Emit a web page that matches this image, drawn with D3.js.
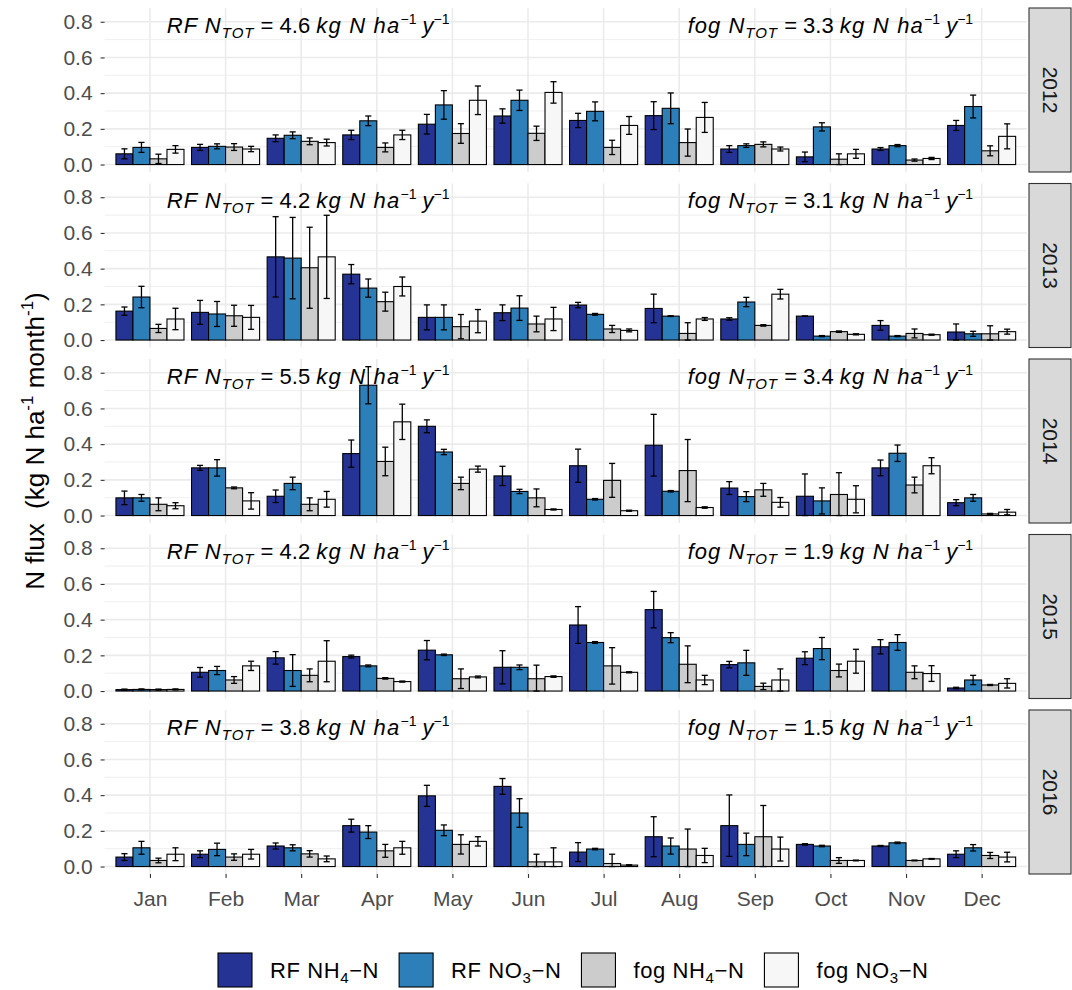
<!DOCTYPE html>
<html>
<head>
<meta charset="utf-8">
<script src="https://cdn.jsdelivr.net/npm/d3@7"></script>
<style>
  body { margin: 0; background: #fff; }
  text { font-family: "Liberation Sans", Arial, sans-serif; }
</style>
</head>
<body>
<div id="chart"></div>
<script>
// ---- data ----
const years = ["2012", "2013", "2014", "2015", "2016"];
const months = ["Jan", "Feb", "Mar", "Apr", "May", "Jun", "Jul", "Aug", "Sep", "Oct", "Nov", "Dec"];
const yTicks = [0, 0.2, 0.4, 0.6, 0.8];
const yMinor = [0.1, 0.3, 0.5, 0.7];
const rfTotals = ["4.6", "4.2", "5.5", "4.2", "3.8"];
const fogTotals = ["3.3", "3.1", "3.4", "1.9", "1.5"];

const seriesKeys = ["rfNH4", "rfNO3", "fogNH4", "fogNO3"];
const seriesColors = ["#253494", "#2c7fb8", "#cccccc", "#f7f7f7"];

// monthly means, one row per year
const rfNH4 = [
  [0.060, 0.096, 0.147, 0.166, 0.226, 0.272, 0.247, 0.274, 0.087, 0.043, 0.087, 0.219],
  [0.162, 0.155, 0.466, 0.369, 0.127, 0.153, 0.196, 0.177, 0.118, 0.134, 0.082, 0.045],
  [0.099, 0.267, 0.108, 0.347, 0.500, 0.222, 0.279, 0.394, 0.154, 0.108, 0.267, 0.072],
  [0.008, 0.105, 0.186, 0.193, 0.229, 0.133, 0.370, 0.456, 0.148, 0.184, 0.248, 0.017],
  [0.053, 0.069, 0.115, 0.229, 0.396, 0.449, 0.081, 0.167, 0.229, 0.124, 0.115, 0.069]
];
const rfNO3 = [
  [0.096, 0.102, 0.164, 0.245, 0.334, 0.360, 0.298, 0.315, 0.106, 0.211, 0.106, 0.325],
  [0.241, 0.146, 0.459, 0.291, 0.127, 0.179, 0.144, 0.134, 0.213, 0.022, 0.022, 0.035],
  [0.099, 0.267, 0.180, 0.730, 0.356, 0.135, 0.091, 0.136, 0.106, 0.082, 0.349, 0.099],
  [0.009, 0.115, 0.115, 0.141, 0.203, 0.133, 0.272, 0.299, 0.158, 0.238, 0.272, 0.062],
  [0.105, 0.096, 0.105, 0.193, 0.203, 0.300, 0.098, 0.115, 0.124, 0.115, 0.133, 0.105]
];
const fogNH4 = [
  [0.032, 0.098, 0.130, 0.096, 0.174, 0.175, 0.096, 0.123, 0.113, 0.030, 0.025, 0.077],
  [0.065, 0.136, 0.405, 0.215, 0.075, 0.090, 0.062, 0.037, 0.082, 0.047, 0.037, 0.035],
  [0.063, 0.155, 0.063, 0.303, 0.180, 0.099, 0.197, 0.252, 0.144, 0.118, 0.171, 0.009],
  [0.008, 0.062, 0.088, 0.071, 0.069, 0.069, 0.141, 0.150, 0.026, 0.115, 0.105, 0.034],
  [0.034, 0.053, 0.071, 0.088, 0.124, 0.026, 0.017, 0.098, 0.167, 0.034, 0.034, 0.062]
];
const fogNO3 = [
  [0.085, 0.087, 0.123, 0.166, 0.360, 0.404, 0.219, 0.264, 0.087, 0.060, 0.034, 0.158],
  [0.118, 0.127, 0.466, 0.300, 0.106, 0.118, 0.054, 0.118, 0.257, 0.032, 0.030, 0.047],
  [0.055, 0.082, 0.091, 0.525, 0.260, 0.034, 0.027, 0.045, 0.074, 0.091, 0.279, 0.019],
  [0.009, 0.141, 0.167, 0.053, 0.079, 0.081, 0.105, 0.062, 0.062, 0.167, 0.098, 0.043],
  [0.069, 0.069, 0.043, 0.105, 0.141, 0.026, 0.008, 0.062, 0.098, 0.034, 0.043, 0.053]
];

// error bar half-widths
const rfNH4Err = [
  [0.028, 0.017, 0.019, 0.026, 0.055, 0.040, 0.040, 0.078, 0.019, 0.027, 0.008, 0.028],
  [0.023, 0.067, 0.225, 0.054, 0.070, 0.044, 0.015, 0.080, 0.007, 0.000, 0.027, 0.045],
  [0.038, 0.014, 0.035, 0.076, 0.036, 0.054, 0.093, 0.173, 0.036, 0.125, 0.044, 0.017],
  [0.003, 0.027, 0.035, 0.008, 0.054, 0.093, 0.103, 0.102, 0.018, 0.036, 0.040, 0.004],
  [0.019, 0.019, 0.017, 0.036, 0.059, 0.044, 0.053, 0.112, 0.172, 0.004, 0.003, 0.019]
];
const rfNO3Err = [
  [0.028, 0.014, 0.019, 0.027, 0.080, 0.057, 0.053, 0.086, 0.010, 0.023, 0.006, 0.064],
  [0.060, 0.070, 0.228, 0.051, 0.070, 0.069, 0.005, 0.002, 0.026, 0.003, 0.003, 0.014],
  [0.019, 0.046, 0.035, 0.104, 0.015, 0.012, 0.004, 0.004, 0.028, 0.073, 0.046, 0.019],
  [0.003, 0.023, 0.089, 0.005, 0.004, 0.013, 0.005, 0.028, 0.070, 0.062, 0.044, 0.026],
  [0.036, 0.035, 0.017, 0.036, 0.030, 0.080, 0.004, 0.045, 0.063, 0.004, 0.004, 0.018]
];
const fogNH4Err = [
  [0.026, 0.019, 0.019, 0.025, 0.055, 0.040, 0.040, 0.076, 0.014, 0.030, 0.006, 0.028],
  [0.023, 0.059, 0.227, 0.053, 0.068, 0.044, 0.020, 0.060, 0.004, 0.004, 0.025, 0.045],
  [0.036, 0.005, 0.036, 0.080, 0.035, 0.050, 0.095, 0.174, 0.036, 0.122, 0.044, 0.003],
  [0.003, 0.019, 0.036, 0.004, 0.055, 0.076, 0.102, 0.103, 0.018, 0.036, 0.036, 0.003],
  [0.013, 0.018, 0.018, 0.036, 0.054, 0.043, 0.052, 0.112, 0.175, 0.016, 0.002, 0.017]
];
const fogNO3Err = [
  [0.021, 0.015, 0.019, 0.026, 0.080, 0.060, 0.050, 0.084, 0.011, 0.025, 0.006, 0.070],
  [0.060, 0.067, 0.233, 0.053, 0.065, 0.065, 0.008, 0.008, 0.027, 0.003, 0.003, 0.014],
  [0.017, 0.046, 0.044, 0.099, 0.017, 0.003, 0.003, 0.004, 0.027, 0.076, 0.045, 0.015],
  [0.003, 0.026, 0.115, 0.003, 0.005, 0.004, 0.003, 0.026, 0.062, 0.067, 0.044, 0.026],
  [0.036, 0.027, 0.016, 0.036, 0.026, 0.079, 0.002, 0.040, 0.067, 0.002, 0.002, 0.027]
];

const means = { rfNH4, rfNO3, fogNH4, fogNO3 };
const errs = { rfNH4: rfNH4Err, rfNO3: rfNO3Err, fogNH4: fogNH4Err, fogNO3: fogNO3Err };

// long table for drawing
const rows = [];
years.forEach((yr, i) => months.forEach((m, j) => seriesKeys.forEach(k => {
  rows.push({ year: yr, month: m, key: k, v: means[k][i][j], e: errs[k][i][j] });
})));

// ---- layout ----
const W = 1072, H = 990;
const left = 104.6, right = 1027;
const stripX = 1029, stripW = 42;
const axisCol = "#4d4d4d", gridCol = "#ebebeb";

const svg = d3.select("#chart").append("svg")
  .attr("width", W).attr("height", H);

const facet = d3.scaleBand().domain(years).range([8, 874]).paddingInner(0.0655);
const ph = facet.bandwidth();

const x = d3.scalePoint().domain(months).range([left, right]).padding(0.6);
const step = x.step();
const xInner = d3.scaleBand().domain(seriesKeys).range([-0.45 * step, 0.45 * step]);
const bw = xInner.bandwidth();
const color = d3.scaleOrdinal().domain(seriesKeys).range(seriesColors);

years.forEach((yr, i) => {
  const top = facet(yr);
  const y = d3.scaleLinear().domain([-0.0418, 0.877]).range([top + ph, top]);
  const g = svg.append("g");

  // grid
  g.selectAll(".minor").data(yMinor).join("line")
    .attr("x1", left).attr("x2", right)
    .attr("y1", d => y(d)).attr("y2", d => y(d))
    .attr("stroke", gridCol).attr("stroke-width", 0.8);
  g.selectAll(".major").data(yTicks).join("line")
    .attr("x1", left).attr("x2", right)
    .attr("y1", d => y(d)).attr("y2", d => y(d))
    .attr("stroke", gridCol).attr("stroke-width", 1.6);
  g.selectAll(".vgrid").data(months).join("line")
    .attr("x1", d => x(d)).attr("x2", d => x(d))
    .attr("y1", top).attr("y2", top + ph)
    .attr("stroke", gridCol).attr("stroke-width", 1.6);

  // y axis
  const ya = g.append("g")
    .attr("transform", `translate(${left},0)`)
    .call(d3.axisLeft(y).tickValues(yTicks).tickFormat(d3.format(".1f")).tickSize(4).tickPadding(8));
  ya.select(".domain").remove();
  ya.selectAll("line").attr("stroke", "#333").attr("stroke-width", 1.1);
  ya.selectAll("text").attr("fill", axisCol).style("font-size", "21px")
    .style("font-family", '"Liberation Sans", Arial, sans-serif');

  // bars
  const data = rows.filter(d => d.year === yr);
  g.selectAll(".bar").data(data).join("rect")
    .attr("x", d => x(d.month) + xInner(d.key))
    .attr("width", bw)
    .attr("y", d => y(d.v))
    .attr("height", d => y(0) - y(d.v))
    .attr("fill", d => color(d.key))
    .attr("stroke", "#000").attr("stroke-width", 1.1);

  // error bars
  const cap = bw * 0.18;
  const eb = g.selectAll(".err").data(data).join("g")
    .attr("transform", d => `translate(${x(d.month) + xInner(d.key) + bw / 2},0)`);
  eb.append("line")
    .attr("y1", d => y(d.v + d.e)).attr("y2", d => y(Math.max(0, d.v - d.e)))
    .attr("stroke", "#000").attr("stroke-width", 1.3);
  eb.append("line")
    .attr("x1", -cap).attr("x2", cap)
    .attr("y1", d => y(d.v + d.e)).attr("y2", d => y(d.v + d.e))
    .attr("stroke", "#000").attr("stroke-width", 1.3);
  eb.append("line")
    .attr("x1", -cap).attr("x2", cap)
    .attr("y1", d => y(Math.max(0, d.v - d.e))).attr("y2", d => y(Math.max(0, d.v - d.e)))
    .attr("stroke", "#000").attr("stroke-width", 1.3);

  // annotations (plotmath-like spacing)
  const annY = y(0.8) + 11;
  function annot(cx, prefix, total) {
    const t = g.append("text")
      .attr("x", cx).attr("y", annY)
      .attr("text-anchor", "middle")
      .style("font-size", "22px").attr("fill", "#000");
    t.append("tspan").style("font-style", "italic").style("letter-spacing", "1px").text(prefix + " N");
    t.append("tspan").style("font-style", "italic").style("font-size", "15px").style("letter-spacing", "1px")
      .attr("dy", 5).text("TOT");
    t.append("tspan").attr("dy", -5).text("\u00a0=\u00a0" + total + "\u00a0");
    t.append("tspan").style("font-style", "italic").style("letter-spacing", "1.2px").text("kg N ha");
    t.append("tspan").style("font-size", "14px").attr("dy", -9).text("\u22121");
    t.append("tspan").style("font-style", "italic").attr("dy", 9).text("\u00a0y");
    t.append("tspan").style("font-size", "14px").attr("dy", -9).text("\u22121");
  }
  annot(x("Mar") + 7, "RF", rfTotals[i]);
  annot(x("Oct"), "fog", fogTotals[i]);

  // strip
  g.append("rect")
    .attr("x", stripX).attr("y", top).attr("width", stripW).attr("height", ph)
    .attr("fill", "#d9d9d9").attr("stroke", "#333").attr("stroke-width", 1.1);
  g.append("text")
    .attr("transform", `translate(${stripX + stripW / 2},${top + ph / 2}) rotate(90)`)
    .attr("text-anchor", "middle").attr("dy", "0.35em")
    .style("font-size", "21px").attr("fill", "#1a1a1a")
    .text(yr);
});

// x axis on the bottom panel
const bottom = facet(years[years.length - 1]) + ph;
const xa = svg.append("g")
  .attr("transform", `translate(0,${bottom})`)
  .call(d3.axisBottom(x).tickSize(4).tickPadding(13));
xa.select(".domain").remove();
xa.selectAll("line").attr("stroke", "#333").attr("stroke-width", 1.1);
xa.selectAll("text").attr("fill", axisCol).style("font-size", "21px")
  .style("font-family", '"Liberation Sans", Arial, sans-serif');

// y axis title
const yt = svg.append("text")
  .attr("transform", `translate(44,441) rotate(-90)`)
  .attr("text-anchor", "middle")
  .style("font-size", "26px").attr("fill", "#000");
yt.append("tspan").text("N flux\u00a0\u00a0(kg N ha");
yt.append("tspan").style("font-size", "17px").attr("dy", -11).text("-1");
yt.append("tspan").attr("dy", 11).text(" month");
yt.append("tspan").style("font-size", "17px").attr("dy", -11).text("-1");
yt.append("tspan").attr("dy", 11).text(")");

// legend
const legendLabels = [["RF NH", "4", "\u2212N"], ["RF NO", "3", "\u2212N"], ["fog NH", "4", "\u2212N"], ["fog NO", "3", "\u2212N"]];
const leg = svg.append("g");
let lx = 218;
const ly = 970;
legendLabels.forEach((lab, i) => {
  leg.append("rect")
    .attr("x", lx).attr("y", ly - 17).attr("width", 34).attr("height", 34)
    .attr("fill", seriesColors[i]).attr("stroke", "#000").attr("stroke-width", 1.1);
  const t = leg.append("text")
    .attr("x", lx + 52).attr("y", ly + 8)
    .style("font-size", "22px").style("letter-spacing", "0.6px").attr("fill", "#000");
  t.append("tspan").text(lab[0]);
  t.append("tspan").style("font-size", "15px").attr("dy", 5).text(lab[1]);
  t.append("tspan").attr("dy", -5).text(lab[2]);
  lx = lx + 52 + t.node().getComputedTextLength() + 20;
});
</script>
</body>
</html>
